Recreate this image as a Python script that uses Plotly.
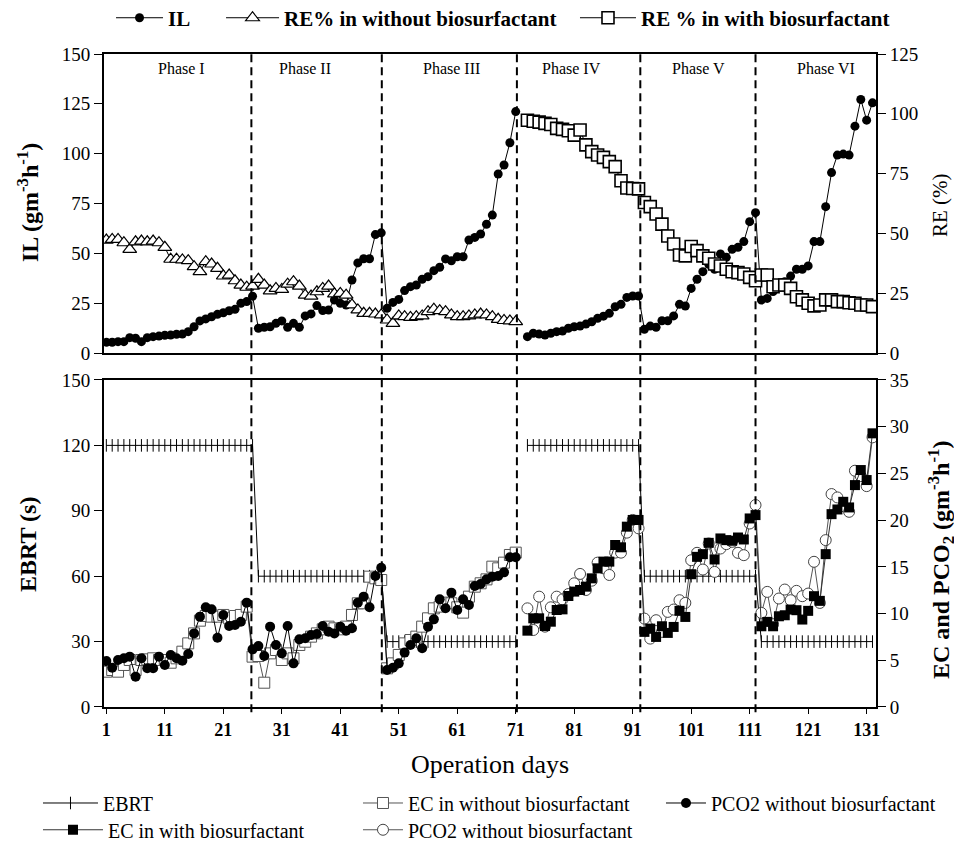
import plotly.graph_objects as go

FONT = "Liberation Serif"

# ---------------- data ----------------
phase_names = ["Phase I", "Phase II", "Phase III", "Phase IV", "Phase V", "Phase VI"]
phase_label_days = [13.8, 35.0, 60.0, 80.5, 102.2, 124.1]
phase_boundaries = [25.8, 48.1, 71.2, 92.3, 112.0]
x_tick_vals = [1, 11, 21, 31, 41, 51, 61, 71, 81, 91, 101, 111, 121, 131]

# top panel: operation days per phase
top_days_I = list(range(1, 27))
top_days_II = list(range(27, 49))
top_days_III = list(range(49, 72))
top_days_IV = list(range(73, 93))
top_days_V = list(range(93, 113))
top_days_VI = list(range(113, 133))

il_I = [5.4, 5.4, 5.7, 5.7, 7.7, 7.4, 5.7, 7.7, 8.2, 8.5, 8.9, 9.0, 9.4, 9.5, 10.7, 13.2,
        16.1, 17.1, 18.2, 19.4, 20.2, 21.2, 21.9, 24.9, 25.8, 28.5]
il_II = [12.4, 12.9, 13.2, 14.9, 16.1, 12.9, 14.9, 12.9, 18.6, 19.6, 23.8, 21.3, 21.6, 26.6,
         24.9, 24.1, 36.6, 45.2, 47.3, 47.3, 59.4, 60.3]
il_III = [22.4, 25.4, 26.9, 31.3, 33.3, 34.1, 37.0, 38.3, 41.3, 43.0, 47.2, 46.3, 48.3, 48.3,
          56.7, 58.0, 59.7, 64.6, 69.2, 89.8, 94.3, 105.5, 121.1]
il_IV = [8.2, 9.9, 9.5, 9.0, 9.9, 10.7, 11.0, 12.4, 13.2, 13.5, 14.5, 15.7, 17.4, 18.5, 19.9,
         23.2, 24.4, 27.9, 28.6, 28.6]
il_V = [11.9, 13.5, 12.9, 16.2, 16.2, 18.6, 24.4, 23.6, 32.4, 37.0, 40.8, 44.5, 42.0, 49.7,
        48.0, 52.0, 53.0, 55.9, 65.9, 70.4]
il_VI = [26.6, 27.4, 30.8, 35.0, 35.8, 38.6, 42.0, 42.0, 43.7, 55.9, 55.9, 73.4, 90.5, 99.3,
         99.8, 99.3, 113.8, 127.2, 116.8, 125.5]

re_without_I = [47.2, 47.5, 47.5, 46.1, 43.3, 46.5, 46.8, 46.5, 46.8, 46.1, 44.2, 39.2, 39.2,
                38.9, 38.6, 36.1, 34.0, 38.2, 37.2, 35.4, 32.2, 32.6, 30.2, 28.4, 27.5, 28.0]
re_without_II = [30.8, 28.4, 26.0, 27.0, 26.6, 28.8, 29.8, 28.0, 24.2, 23.8, 25.6, 27.0, 28.0,
                 24.7, 24.9, 24.2, 20.1, 18.0, 16.6, 16.6, 16.3, 15.9]
re_without_III = [13.8, 12.4, 15.5, 15.2, 14.9, 15.2, 15.5, 17.3, 18.3, 17.7, 17.3, 15.9, 15.2,
                  15.2, 15.5, 15.9, 16.3, 15.9, 15.2, 14.1, 13.6, 13.4, 13.1]
re_with_IV = [97.3, 96.9, 96.5, 96.0, 95.5, 93.9, 93.5, 92.9, 91.1, 93.2, 87.0, 84.2, 82.8,
              81.8, 80.0, 77.9, 72.0, 69.0, 68.8, 68.6]
re_with_V = [62.9, 61.2, 58.1, 53.9, 48.9, 45.6, 41.0, 40.6, 44.5, 42.8, 40.6, 39.6, 37.2, 36.4,
             35.0, 34.0, 33.6, 33.0, 31.6, 30.2]
re_with_VI = [32.6, 32.6, 27.7, 28.4, 28.4, 27.0, 23.5, 22.2, 20.8, 19.7, 20.1, 22.2, 22.2, 21.5,
              21.5, 21.0, 20.8, 20.1, 20.1, 19.4]

# bottom panel: operation days per phase
bot_days_I = list(range(1, 26))
bot_days_II = list(range(26, 49))
bot_days_III = list(range(49, 72))
bot_days_IV = list(range(73, 93))
bot_days_V = list(range(93, 113))
bot_days_VI = list(range(113, 133))

ebrt_days = list(range(1, 27)) + list(range(27, 49)) + list(range(49, 72)) + [72] + \
    list(range(73, 93)) + list(range(93, 113)) + list(range(113, 133))
ebrt_levels = [120, 60, 30, None, 120, 60, 30]
ebrt_counts = [26, 22, 23, 1, 20, 20, 20]

ec_without_I = [3.78, 3.96, 3.78, 4.50, 5.03, 3.96, 5.03, 5.10, 5.21, 5.03, 5.03, 4.74, 5.21,
                5.92, 6.81, 7.88, 9.24, 9.74, 9.67, 9.67, 9.85, 9.49, 9.74, 9.85, 10.74]
ec_without_II = [5.39, 5.46, 2.60, 5.74, 6.10, 5.03, 5.74, 5.21, 6.64, 6.99, 7.53, 7.88, 8.31,
                 8.60, 8.42, 8.31, 8.60, 9.85, 11.10, 11.10, 13.95, 13.77, 13.59]
ec_without_III = [4.14, 4.67, 5.57, 6.81, 7.17, 7.53, 8.60, 9.49, 10.56, 10.74, 11.17, 11.10,
                  10.67, 10.10, 11.81, 12.88, 13.24, 13.66, 15.02, 14.84, 15.45, 16.27, 16.52]

pco2_without_I = [4.92, 4.21, 5.03, 5.21, 5.39, 3.25, 5.21, 4.14, 4.14, 5.39, 4.50, 5.57, 5.21,
                  4.96, 5.67, 7.88, 9.67, 10.67, 10.45, 7.42, 9.85, 8.67, 8.78, 9.13, 11.17]
pco2_without_II = [6.17, 6.53, 5.46, 8.60, 6.64, 5.74, 8.67, 4.67, 7.24, 7.35, 7.71, 7.81, 8.67,
                   8.06, 7.88, 8.60, 8.17, 8.42, 11.17, 11.81, 10.67, 14.02, 14.91]
pco2_without_III = [3.96, 4.21, 4.67, 5.82, 6.64, 7.35, 6.28, 8.60, 9.38, 11.52, 10.56, 12.24,
                    10.38, 11.52, 10.92, 12.95, 13.17, 13.66, 13.95, 14.02, 14.41, 16.02, 16.02]

ec_with_IV = [8.17, 9.49, 9.49, 8.67, 9.13, 10.38, 10.45, 11.88, 12.35, 12.52, 12.88, 13.77,
              14.84, 15.56, 15.56, 17.34, 17.09, 19.30, 20.02, 20.02]
ec_with_V = [8.04, 8.39, 7.50, 8.64, 7.93, 8.57, 10.29, 9.64, 14.21, 16.07, 16.36, 17.57, 15.79,
             18.04, 17.86, 17.79, 18.14, 17.93, 20.18, 20.54]
ec_with_VI = [8.64, 9.11, 8.64, 9.71, 9.82, 10.43, 10.36, 9.36, 10.29, 11.86, 11.36, 16.36,
              20.64, 21.14, 21.96, 21.36, 23.75, 25.36, 24.29, 29.29]

pco2_with_IV = [10.56, 8.24, 11.81, 8.60, 10.67, 11.81, 11.52, 12.09, 13.24, 14.24, 12.52, 13.52,
                15.45, 14.84, 14.13, 16.52, 16.52, 18.66, 20.02, 19.12]
pco2_with_V = [9.46, 7.32, 9.29, 8.04, 10.18, 10.43, 11.43, 11.14, 15.71, 16.50, 14.71, 17.50,
               14.46, 16.96, 17.43, 17.68, 16.50, 16.25, 19.64, 21.61]
pco2_with_VI = [10.07, 12.32, 8.86, 11.61, 12.57, 11.43, 12.43, 11.86, 12.14, 15.54, 11.14, 17.86,
                22.79, 22.43, 21.50, 20.89, 25.29, 24.71, 23.64, 28.86]

# ---------------- assemble ----------------
il_days = top_days_I + top_days_II + top_days_III + [72] + top_days_IV + top_days_V + top_days_VI
il_vals = il_I + il_II + il_III + [None] + il_IV + il_V + il_VI
ebrt_vals = []
for lvl, n in zip(ebrt_levels, ebrt_counts):
    ebrt_vals += [lvl] * n

fig = go.Figure()

# top panel
fig.add_trace(go.Scatter(
    x=il_days, y=il_vals, name="IL", xaxis="x2", yaxis="y", legend="legend",
    mode="lines+markers", connectgaps=False,
    line=dict(color="black", width=1),
    marker=dict(symbol="circle", size=9, color="black")))
fig.add_trace(go.Scatter(
    x=top_days_I + top_days_II + top_days_III,
    y=re_without_I + re_without_II + re_without_III,
    name="RE% in without biosurfactant", xaxis="x2", yaxis="y2", legend="legend7",
    mode="lines+markers", line=dict(color="black", width=1),
    marker=dict(symbol="triangle-up", size=12, color="white",
                line=dict(color="black", width=1.2))))
fig.add_trace(go.Scatter(
    x=top_days_IV + top_days_V + top_days_VI,
    y=re_with_IV + re_with_V + re_with_VI,
    name="RE % in with biosurfactant", xaxis="x2", yaxis="y2", legend="legend8",
    mode="lines+markers", line=dict(color="black", width=1),
    marker=dict(symbol="square", size=12, color="white",
                line=dict(color="black", width=1.6))))

# bottom panel
fig.add_trace(go.Scatter(
    x=ebrt_days, y=ebrt_vals, name="EBRT", xaxis="x", yaxis="y3", legend="legend2",
    mode="lines+markers", connectgaps=False,
    line=dict(color="black", width=1),
    marker=dict(symbol="line-ns", size=9, color="black",
                line=dict(color="black", width=1))))
fig.add_trace(go.Scatter(
    x=bot_days_I + bot_days_II + bot_days_III,
    y=ec_without_I + ec_without_II + ec_without_III,
    name="EC in without biosurfactant", xaxis="x", yaxis="y4", legend="legend4",
    mode="lines+markers", line=dict(color="#555555", width=1),
    marker=dict(symbol="square", size=11, color="white",
                line=dict(color="#555555", width=1))))
fig.add_trace(go.Scatter(
    x=bot_days_I + bot_days_II + bot_days_III,
    y=pco2_without_I + pco2_without_II + pco2_without_III,
    name="PCO2 without biosurfactant", xaxis="x", yaxis="y4", legend="legend6",
    mode="lines+markers", line=dict(color="black", width=1),
    marker=dict(symbol="circle", size=10, color="black")))
fig.add_trace(go.Scatter(
    x=bot_days_IV + bot_days_V + bot_days_VI,
    y=pco2_with_IV + pco2_with_V + pco2_with_VI,
    name="PCO2 without biosurfactant", xaxis="x", yaxis="y4", legend="legend5",
    mode="lines+markers", line=dict(color="#555555", width=1),
    marker=dict(symbol="circle", size=11, color="white",
                line=dict(color="#444444", width=1))))
fig.add_trace(go.Scatter(
    x=bot_days_IV + bot_days_V + bot_days_VI,
    y=ec_with_IV + ec_with_V + ec_with_VI,
    name="EC in with biosurfactant", xaxis="x", yaxis="y4", legend="legend3",
    mode="lines+markers", line=dict(color="#333333", width=1),
    marker=dict(symbol="square", size=10, color="black")))

# phase boundaries
for b in phase_boundaries:
    fig.add_shape(type="line", xref="x", yref="paper", x0=b, x1=b, y0=-0.008, y1=1.0,
                  line=dict(color="black", width=2, dash="8px,5px"), layer="above")

# phase labels
for name, d in zip(phase_names, phase_label_days):
    fig.add_annotation(x=d, y=0.978, xref="x", yref="paper", text=name, showarrow=False,
                       font=dict(family=FONT, size=16, color="black"),
                       xanchor="center", yanchor="middle")

axis_common = dict(showgrid=False, zeroline=False, showline=True, linewidth=2,
                   linecolor="black", ticks="outside", tickcolor="black", tickwidth=1,
                   tickfont=dict(family=FONT, size=19))

top_dom = [0.5421, 1.0]
bot_dom = [0.0, 0.5008]


def top_leg(x, iw):
    return dict(orientation="h", x=x, xanchor="left", y=1.055, yanchor="middle",
                font=dict(family=FONT, size=21, weight="bold"), itemwidth=iw,
                bgcolor="rgba(0,0,0,0)")


def bot_leg(x, y, iw):
    return dict(orientation="h", x=x, xanchor="left", y=y, yanchor="middle",
                font=dict(family=FONT, size=20), itemwidth=iw,
                bgcolor="rgba(0,0,0,0)")


x_axis_opts = dict(axis_common)
x_axis_opts["tickfont"] = dict(family=FONT, size=18, weight="bold")

fig.update_layout(
    width=954, height=837,
    margin=dict(l=96, r=86, t=46, b=138, autoexpand=False),
    paper_bgcolor="white", plot_bgcolor="white",
    font=dict(family=FONT, size=19, color="black"),
    xaxis=dict(**x_axis_opts, anchor="y3", range=[0.6, 132.6], tickvals=x_tick_vals,
               ticklen=5, mirror=True),
    xaxis2=dict(showgrid=False, zeroline=False, showline=True, linewidth=2, linecolor="black",
                mirror=True, anchor="y", matches="x", showticklabels=False, ticks=""),
    yaxis=dict(**axis_common, domain=top_dom, anchor="x2", range=[0, 150],
               tickvals=[0, 25, 50, 75, 100, 125, 150], ticklen=8),
    yaxis2=dict(**axis_common, domain=top_dom, overlaying="y", side="right", anchor="x2",
                range=[0, 125], tickvals=[0, 25, 50, 75, 100, 125], ticklen=8),
    yaxis3=dict(**axis_common, domain=bot_dom, anchor="x", range=[0, 150],
                tickvals=[0, 30, 60, 90, 120, 150], ticklen=8),
    yaxis4=dict(**axis_common, domain=bot_dom, overlaying="y3", side="right", anchor="x",
                range=[0, 35], tickvals=[0, 5, 10, 15, 20, 25, 30, 35], ticklen=8),
    legend=top_leg(0.0091, 47),
    legend7=top_leg(0.1516, 53),
    legend8=top_leg(0.6101, 56),
    legend2=bot_leg(-0.0855, -0.147, 55),
    legend3=bot_leg(-0.0855, -0.188, 60),
    legend4=bot_leg(0.3290, -0.147, 40),
    legend5=bot_leg(0.3290, -0.188, 40),
    legend6=bot_leg(0.7215, -0.147, 40),
    showlegend=True,
)

# axis titles
fig.add_annotation(x=-0.0984, y=0.7718, xref="paper", yref="paper", showarrow=False,
                   text="<b>IL (gm<sup>-3</sup>h<sup>-1</sup>)</b>", textangle=-90,
                   font=dict(family=FONT, size=24), xanchor="center", yanchor="middle")
fig.add_annotation(x=1.0829, y=0.7688, xref="paper", yref="paper", showarrow=False,
                   text="RE (%)", textangle=-90,
                   font=dict(family=FONT, size=21), xanchor="center", yanchor="middle")
fig.add_annotation(x=-0.0984, y=0.2481, xref="paper", yref="paper", showarrow=False,
                   text="<b>EBRT (s)</b>", textangle=-90,
                   font=dict(family=FONT, size=24), xanchor="center", yanchor="middle")
fig.add_annotation(x=1.1088, y=0.2251, xref="paper", yref="paper", showarrow=False,
                   text="<b>EC and PCO<sub>2</sub> (gm<sup>-3</sup>h<sup>-1</sup>)</b>",
                   textangle=-90, font=dict(family=FONT, size=24),
                   xanchor="right", yanchor="middle")
fig.add_annotation(x=0.5, y=-0.0888, xref="paper", yref="paper", showarrow=False,
                   text="Operation days", font=dict(family=FONT, size=26),
                   xanchor="center", yanchor="middle")

fig.write_html("out.html")
